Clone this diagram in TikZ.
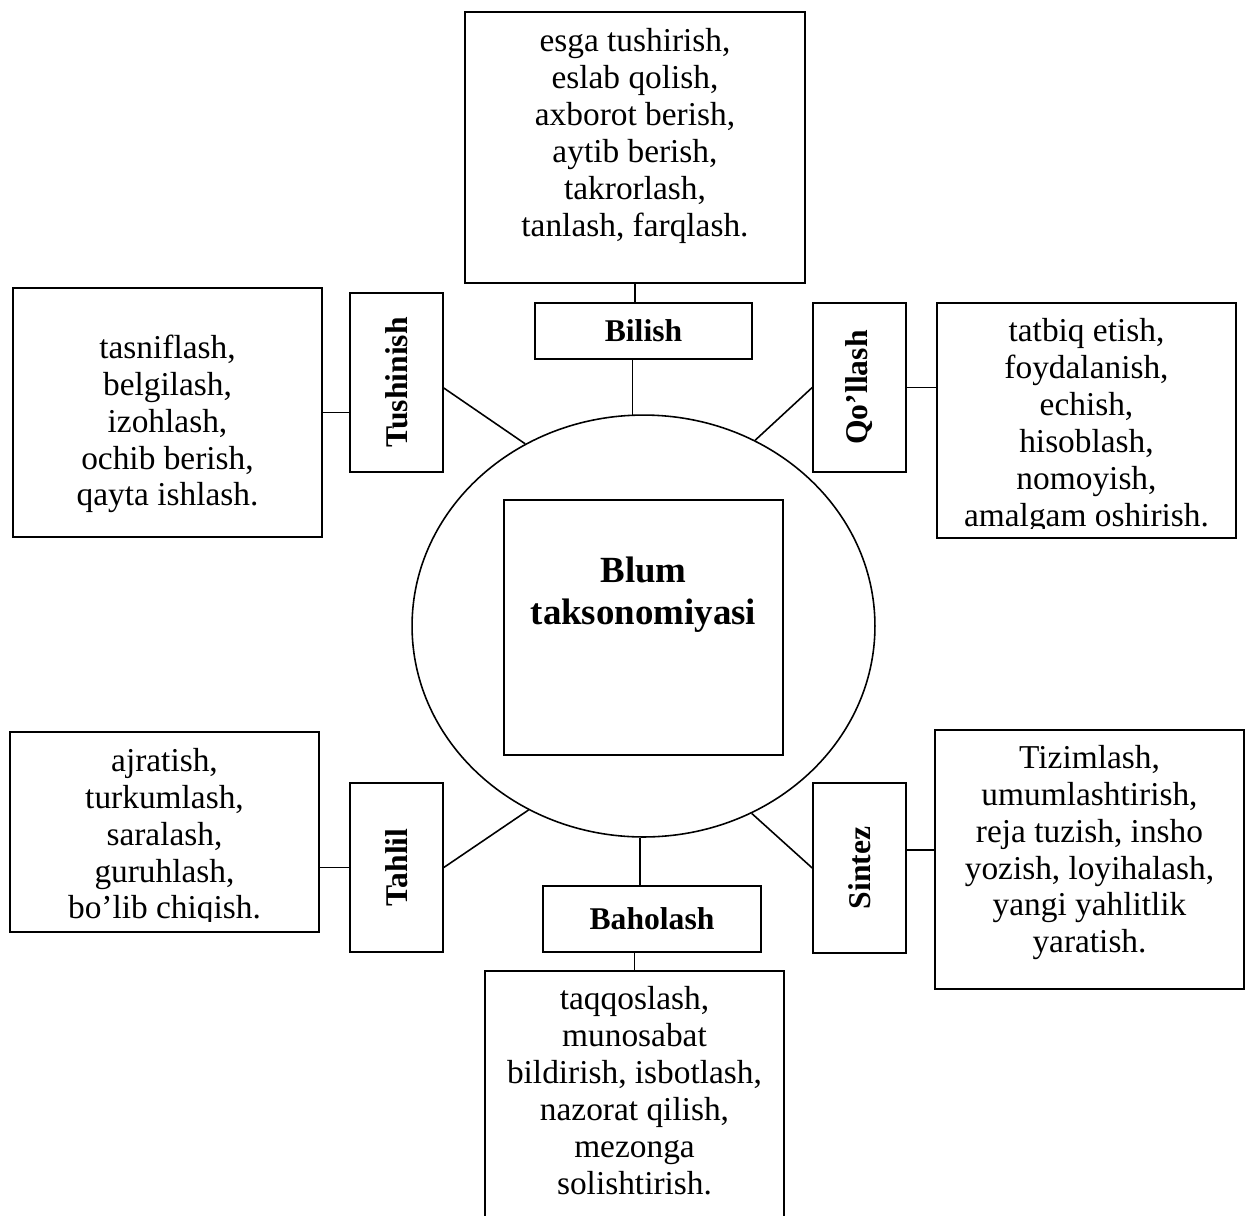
\documentclass[tikz,border=0pt]{standalone}
\usepackage{fontspec}
\setmainfont{Liberation Serif}
\usepackage{graphicx}
\usetikzlibrary{positioning,shapes.geometric}

\tikzset{
  listbox/.style={draw, inner sep=0pt},
  listtext/.style={align=center, inner sep=0pt, font=\fontsize{19}{21}\selectfont},
  levelbox/.style={draw, inner sep=0pt, font=\bfseries\fontsize{18}{21}\selectfont},
  sidebox/.style={levelbox, minimum width=1.86cm, minimum height=3.38cm},
}

\begin{document}
\begin{tikzpicture}[x=0.02cm, y=-0.02cm, line width=0.9pt]
  \useasboundingbox (0,0) rectangle (1251,1215);
  \clip (0,0) rectangle (1251,1215);

  % centre
  \node[ellipse, draw, minimum width=9.26cm, minimum height=8.44cm] (blum) at (643.5,626) {};
  \node[draw, minimum width=5.58cm, minimum height=5.1cm] (core) at (643.5,627.5) {};
  \node[align=center, inner sep=0pt, font=\bfseries\fontsize{21}{24.4}\selectfont,
        below=1.04cm of core.north] (title) {\strut Blum\\taksonomiyasi};

  % levels
  \node[levelbox, minimum width=4.34cm, minimum height=1.12cm] (bilish) at (643.5,331) {Bilish};
  \node[levelbox, minimum width=4.36cm, minimum height=1.32cm] (baho)   at (652,919)   {Baholash};
  \node[sidebox, minimum height=3.58cm] (tush) at (396.5,382.5) {\rotatebox{90}{Tushinish}};
  \node[sidebox] (qol) at (859.5,387.5) {\rotatebox{90}{Qo’llash}};
  \node[sidebox] (tah) at (396.5,867.5) {\rotatebox{90}{Tahlil}};
  \node[sidebox, minimum height=3.4cm] (sin) at (859.5,868) {\rotatebox{90}{Sintez}};

  % lists
  \node[listbox, minimum width=6.8cm,  minimum height=5.42cm] (bilishlist) at (635,147.5)    {};
  \node[listbox, minimum width=6.18cm, minimum height=4.98cm] (tushlist)   at (167.5,412.5)  {};
  \node[listbox, minimum width=5.98cm, minimum height=4.7cm]  (qollist)    at (1086.5,420.5) {};
  \node[listbox, minimum width=6.18cm, minimum height=4.0cm]  (tahlist)    at (164.5,832)    {};
  \node[listbox, minimum width=6.18cm, minimum height=5.18cm] (sinlist)    at (1089.5,859.5) {};
  \node[listbox, minimum width=5.98cm, minimum height=5.78cm] (baholist)   at (634.5,1115.5) {};

  \node[listtext, below=0.28cm of bilishlist.north] (bilishtext)
    {\strut esga tushirish,\\eslab qolish,\\axborot berish,\\aytib berish,\\takrorlash,\\tanlash, farqlash.};
  \node[listtext, below=0.89cm of tushlist.north] (tushtext)
    {\strut tasniflash,\\belgilash,\\izohlash,\\ochib berish,\\qayta ishlash.};
  \begin{scope}
    \clip (qollist.north west) rectangle ([yshift=0.2cm]qollist.south east);
    \node[listtext, below=0.26cm of qollist.north] (qoltext)
      {\strut tatbiq etish,\\foydalanish,\\echish,\\hisoblash,\\nomoyish,\\amalgam oshirish.};
  \end{scope}
  \begin{scope}
    \clip (tahlist.north west) rectangle ([yshift=0.22cm]tahlist.south east);
    \node[listtext, below=0.27cm of tahlist.north] (tahtext)
      {\strut ajratish,\\turkumlash,\\saralash,\\guruhlash,\\bo’lib chiqish.};
  \end{scope}
  \node[listtext, below=0.25cm of sinlist.north] (sintext)
    {\strut Tizimlash,\\umumlashtirish,\\reja tuzish, insho\\yozish, loyihalash,\\yangi yahlitlik\\yaratish.};
  \node[listtext, below=0.26cm of baholist.north] (bahotext)
    {\strut taqqoslash,\\munosabat\\bildirish, isbotlash,\\nazorat qilish,\\mezonga\\solishtirish.};

  % connectors
  \draw (bilishlist.south) -- (bilishlist.south |- bilish.north);
  \draw (blum.93.5) -- (blum.93.5 |- bilish.south);
  \draw (tushlist.east) -- (tushlist.east -| tush.west);
  \draw ([yshift=-0.11cm]tush.east) -- (blum.123);
  \draw (qol.west) -- (blum.59);
  \draw (qol.east) -- (qol.east -| qollist.west);
  \draw (tah.east) -- (blum.238);
  \draw (tahlist.east |- tah.west) -- (tah.west);
  \draw (sin.west) -- (blum.300);
  \draw ([yshift=0.19cm]sinlist.west) -- ([yshift=0.19cm]sinlist.west -| sin.east);
  \draw (blum.269) -- (blum.269 |- baho.north);
  \draw (baholist.north) -- (baholist.north |- baho.south);
\end{tikzpicture}
\end{document}
